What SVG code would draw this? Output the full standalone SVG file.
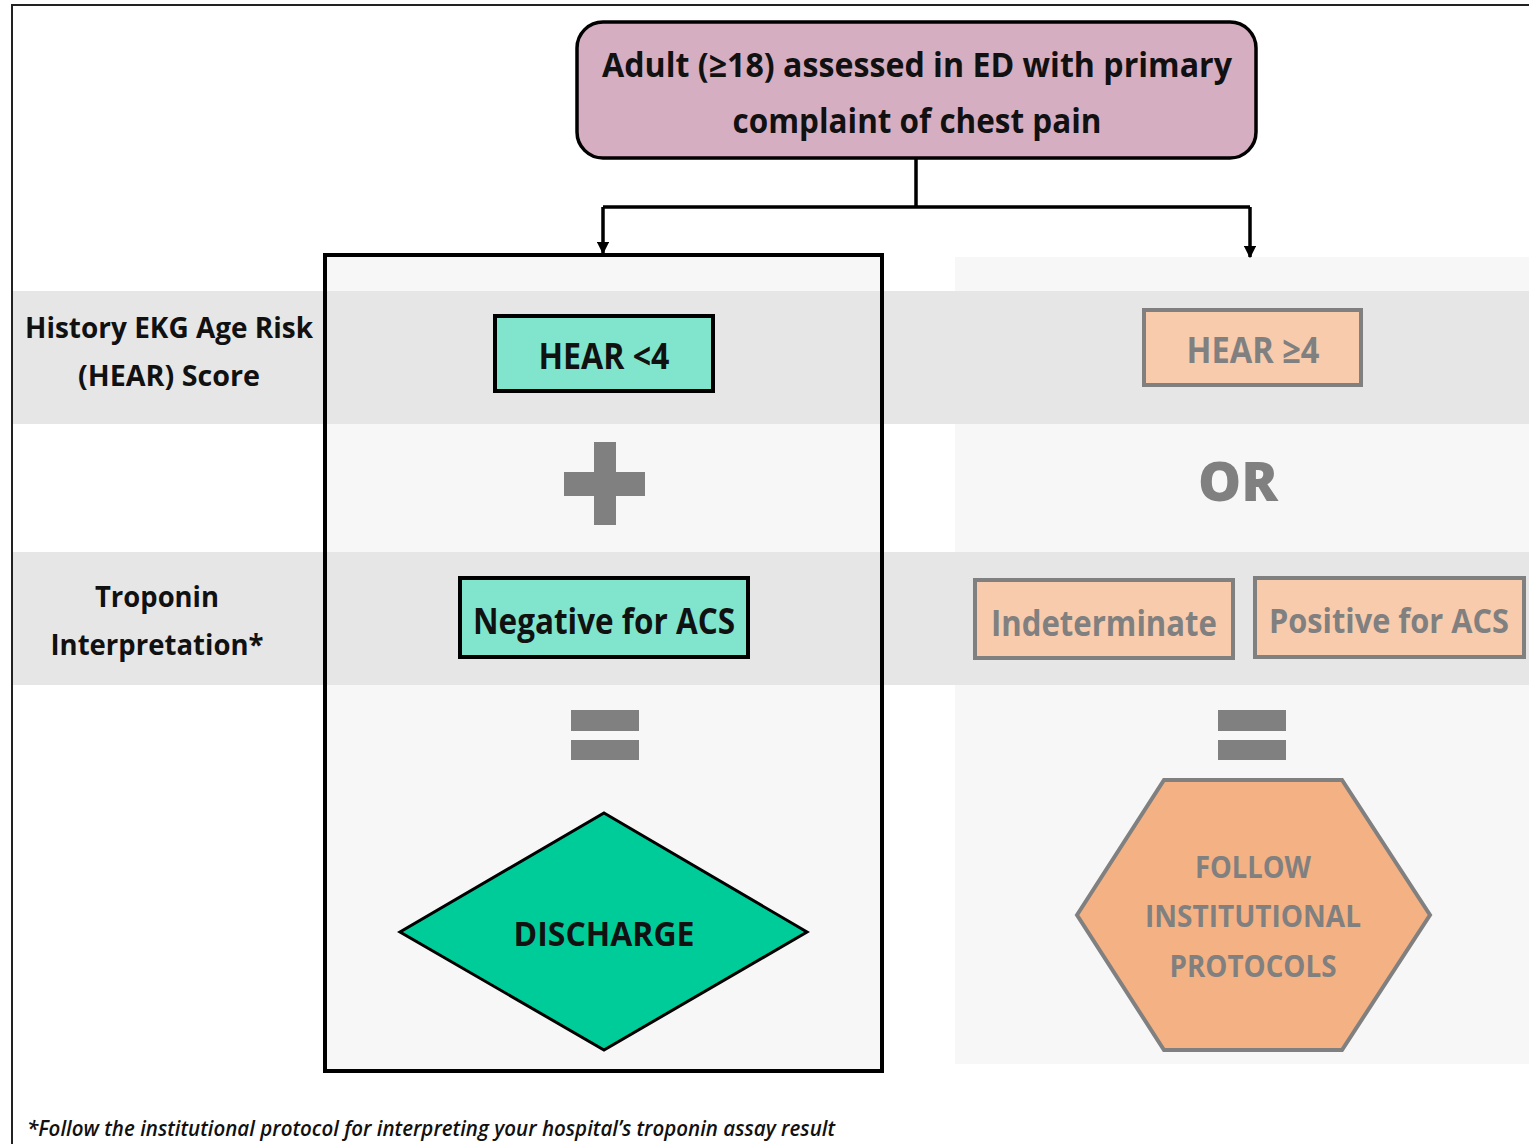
<svg xmlns="http://www.w3.org/2000/svg" width="1529" height="1144" viewBox="0 0 1529 1144">
<style>
  text { font-family: "Open Sans", "Noto Sans", sans-serif; text-anchor: middle; }
  .dark { fill: #111111; font-weight: 700; }
  .grey { fill: #808080; font-weight: 700; }
  .band { fill: #e6e6e6; }
  .light { fill: #f7f7f7; }
  .conn { fill: none; stroke: #000; stroke-width: 3.5; }
  .teal { fill: #80e5cc; stroke: #000; stroke-width: 4; }
  .peach { fill: #f8cbad; stroke: #808080; stroke-width: 4; }
  .sym { fill: #808080; }
</style>
<defs>
  <marker id="arrow" viewBox="0 0 10 10" refX="9" refY="5" markerWidth="3.6" markerHeight="3.6" markerUnits="strokeWidth" orient="auto">
    <path d="M0,0 L10,5 L0,10 z" fill="#000"/>
  </marker>
</defs>
<rect x="0" y="0" width="1529" height="1144" fill="#ffffff"/>
<g id="background">
  <rect class="light" x="955" y="257" width="574" height="807"/>
  <rect class="light" x="325" y="255" width="557" height="816"/>
  <rect class="band" x="12" y="291" width="1517" height="133"/>
  <rect class="band" x="12" y="552" width="1517" height="133"/>
  <path d="M12,1144 L12,5 L1529,5" fill="none" stroke="#222" stroke-width="2"/>
</g>
<g id="connectors">
  <path class="conn" d="M916,158 L916,207 M603,207 L1250,207"/>
  <path class="conn" d="M603,207 L603,253" marker-end="url(#arrow)"/>
  <path class="conn" d="M1250,207 L1250,257" marker-end="url(#arrow)"/>
</g>
<g id="start">
  <rect x="577" y="22" width="679" height="136" rx="26" fill="#d5aec1" stroke="#000" stroke-width="3.5"/>
  <text class="dark" x="917" y="77" font-size="34" textLength="630" lengthAdjust="spacingAndGlyphs">Adult (≥18) assessed in ED with primary</text>
  <text class="dark" x="917" y="133" font-size="34" textLength="369" lengthAdjust="spacingAndGlyphs">complaint of chest pain</text>
</g>
<g id="low-risk-box">
  <rect x="325" y="255" width="557" height="816" fill="none" stroke="#000" stroke-width="4"/>
</g>
<g id="label-hear">
  <text class="dark" x="169" y="338" font-size="29" textLength="288" lengthAdjust="spacingAndGlyphs">History EKG Age Risk</text>
  <text class="dark" x="169" y="386" font-size="29" textLength="182" lengthAdjust="spacingAndGlyphs">(HEAR) Score</text>
</g>
<g id="label-troponin">
  <text class="dark" x="157" y="607" font-size="29" textLength="124" lengthAdjust="spacingAndGlyphs">Troponin</text>
  <text class="dark" x="157" y="655" font-size="29" textLength="213" lengthAdjust="spacingAndGlyphs">Interpretation*</text>
</g>
<g id="hear-low">
  <rect class="teal" x="495" y="316" width="218" height="75"/>
  <text class="dark" x="604" y="369" font-size="36" textLength="131" lengthAdjust="spacingAndGlyphs">HEAR &lt;4</text>
</g>
<g id="plus">
  <rect class="sym" x="594" y="442" width="22" height="83"/>
  <rect class="sym" x="564" y="472" width="81" height="24"/>
</g>
<g id="troponin-neg">
  <rect class="teal" x="460" y="578" width="288" height="79"/>
  <text class="dark" x="604" y="634" font-size="36" textLength="262" lengthAdjust="spacingAndGlyphs">Negative for ACS</text>
</g>
<g id="equals-left">
  <rect class="sym" x="571" y="710" width="68" height="21"/>
  <rect class="sym" x="571" y="740" width="68" height="20"/>
</g>
<g id="discharge">
  <polygon points="604,813 807,932 604,1050 400,932" fill="#00cc99" stroke="#000" stroke-width="3"/>
  <text class="dark" x="604" y="946" font-size="34" textLength="181" lengthAdjust="spacingAndGlyphs">DISCHARGE</text>
</g>
<g id="hear-high">
  <rect class="peach" x="1144" y="310" width="217" height="75"/>
  <text class="grey" x="1253" y="363" font-size="36" textLength="133" lengthAdjust="spacingAndGlyphs">HEAR ≥4</text>
</g>
<g id="or">
  <text x="1238" y="501" font-size="54" font-weight="900" fill="#808080" font-family="'DejaVu Sans', sans-serif" textLength="80" lengthAdjust="spacingAndGlyphs">OR</text>
</g>
<g id="indeterminate">
  <rect class="peach" x="975" y="580" width="258" height="78"/>
  <text class="grey" x="1104" y="636" font-size="36" textLength="226" lengthAdjust="spacingAndGlyphs">Indeterminate</text>
</g>
<g id="positive">
  <rect class="peach" x="1255" y="578" width="269" height="79"/>
  <text class="grey" x="1389" y="633" font-size="34" textLength="240" lengthAdjust="spacingAndGlyphs">Positive for ACS</text>
</g>
<g id="equals-right">
  <rect class="sym" x="1218" y="710" width="68" height="21"/>
  <rect class="sym" x="1218" y="740" width="68" height="20"/>
</g>
<g id="follow-protocols">
  <polygon points="1077,915 1164,780 1342,780 1430,915 1342,1050 1164,1050" fill="#f4b183" stroke="#808080" stroke-width="4"/>
  <text class="grey" x="1253" y="878" font-size="30" textLength="116" lengthAdjust="spacingAndGlyphs">FOLLOW</text>
  <text class="grey" x="1253" y="927" font-size="30" textLength="216" lengthAdjust="spacingAndGlyphs">INSTITUTIONAL</text>
  <text class="grey" x="1253" y="977" font-size="30" textLength="167" lengthAdjust="spacingAndGlyphs">PROTOCOLS</text>
</g>
<g id="footnote">
  <text x="27" y="1136" font-size="21" font-style="italic" font-weight="600" fill="#111" style="text-anchor:start" textLength="808" lengthAdjust="spacingAndGlyphs">*Follow the institutional protocol for interpreting your hospital’s troponin assay result</text>
</g>
</svg>
